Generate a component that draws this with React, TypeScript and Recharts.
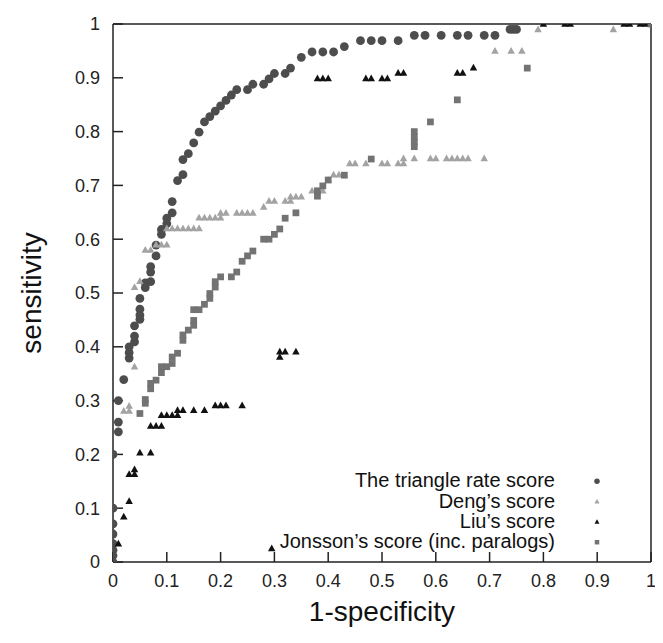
import React from 'react';
import { ScatterChart, Scatter, XAxis, YAxis, Label } from 'recharts';

// 1-specificity / sensitivity pairs
const triangleRateX = [
  0, 0, 0, 0, 0, 0, 0, 0, 0.01, 0.01, 0.01, 0.02, 0.03, 0.03, 0.03, 0.04, 0.04, 0.04,
  0.05, 0.05, 0.05, 0.05, 0.06, 0.06, 0.07, 0.07, 0.07, 0.08, 0.08, 0.09, 0.09, 0.1, 0.1,
  0.11, 0.11, 0.12, 0.13, 0.13, 0.14, 0.15, 0.16, 0.17, 0.18, 0.19, 0.2, 0.21, 0.22, 0.23,
  0.25, 0.26, 0.28, 0.29, 0.3, 0.32, 0.33, 0.35, 0.37, 0.39, 0.41, 0.43, 0.46, 0.48, 0.5,
  0.53, 0.56, 0.58, 0.61, 0.64, 0.66, 0.69, 0.71, 0.738, 0.744, 0.75,
];
const triangleRateY = [
  0, 0.012, 0.022, 0.034, 0.052, 0.071, 0.1, 0.2, 0.242, 0.26, 0.3, 0.339, 0.379, 0.389, 0.4,
  0.409, 0.42, 0.439, 0.451, 0.459, 0.47, 0.49, 0.51, 0.519, 0.521, 0.539, 0.549, 0.569, 0.589,
  0.609, 0.618, 0.629, 0.639, 0.649, 0.67, 0.709, 0.72, 0.748, 0.759, 0.779, 0.799, 0.818,
  0.828, 0.838, 0.848, 0.858, 0.868, 0.878, 0.878, 0.888, 0.888, 0.898, 0.908, 0.908, 0.918,
  0.938, 0.948, 0.948, 0.948, 0.958, 0.969, 0.969, 0.969, 0.969, 0.979, 0.979, 0.979, 0.979,
  0.979, 0.979, 0.979, 0.99, 0.99, 0.99,
];

const dengX = [
  0.02, 0.03, 0.03, 0.04, 0.04, 0.05, 0.06, 0.07, 0.08, 0.09, 0.1,
  0.1, 0.11, 0.12, 0.13, 0.14, 0.15, 0.16, 0.16, 0.17, 0.18, 0.19, 0.2,
  0.2, 0.21, 0.23, 0.24, 0.25, 0.26, 0.28, 0.29, 0.3, 0.32, 0.33, 0.33, 0.34, 0.35,
  0.37, 0.39, 0.4, 0.41, 0.42, 0.44, 0.45, 0.47, 0.5, 0.51, 0.53, 0.54,
  0.54, 0.56, 0.59, 0.6, 0.62, 0.63, 0.64, 0.65, 0.66, 0.69, 0.71, 0.74, 0.76, 0.79, 0.93,
];
const dengY = [
  0.281, 0.29, 0.281, 0.363, 0.511, 0.522, 0.58, 0.58, 0.59, 0.59, 0.59,
  0.62, 0.62, 0.62, 0.62, 0.62, 0.62, 0.62, 0.64, 0.64, 0.64, 0.64, 0.64,
  0.649, 0.649, 0.649, 0.649, 0.649, 0.649, 0.66, 0.671, 0.671, 0.671, 0.671, 0.679, 0.679, 0.679,
  0.69, 0.69, 0.71, 0.72, 0.72, 0.741, 0.741, 0.741, 0.741, 0.741, 0.741, 0.741,
  0.75, 0.75, 0.75, 0.75, 0.75, 0.75, 0.75, 0.75, 0.75, 0.75, 0.95, 0.95, 0.95, 0.99, 0.99,
];

const liuX = [
  0.01, 0.02, 0.03, 0.03, 0.04, 0.04, 0.05, 0.07, 0.07, 0.08, 0.09, 0.09, 0.1, 0.11, 0.12,
  0.12, 0.13, 0.15, 0.17, 0.19, 0.2, 0.21, 0.24, 0.295, 0.31, 0.31, 0.32, 0.34,
  0.38, 0.39, 0.4, 0.47, 0.48, 0.5, 0.51, 0.53, 0.54, 0.64, 0.65, 0.67,
  0.8, 0.84, 0.85, 0.95, 0.96, 0.98, 0.99, 1,
];
const liuY = [
  0.034, 0.084, 0.113, 0.163, 0.163, 0.172, 0.203, 0.203, 0.253, 0.253, 0.253, 0.273, 0.273,
  0.273, 0.273, 0.282, 0.282, 0.282, 0.282, 0.291, 0.291, 0.291, 0.291, 0.025, 0.381, 0.391,
  0.391, 0.391, 0.899, 0.899, 0.899, 0.899, 0.899, 0.899, 0.899, 0.909, 0.909, 0.909, 0.909,
  0.919, 1, 1, 1, 1, 1, 1, 1, 1,
];

const jonssonX = [
  0.05, 0.06, 0.06, 0.07, 0.07, 0.08, 0.09, 0.09, 0.1, 0.11, 0.11, 0.12, 0.13, 0.13, 0.14,
  0.15, 0.15, 0.15, 0.16, 0.17, 0.18, 0.18, 0.19, 0.19, 0.2, 0.22, 0.23, 0.24, 0.25, 0.26,
  0.28, 0.29, 0.3, 0.31, 0.32, 0.34, 0.38, 0.38, 0.39, 0.4, 0.43, 0.48, 0.56, 0.56, 0.56,
  0.56, 0.59, 0.64, 0.77, 1,
];
const jonssonY = [
  0.276, 0.295, 0.302, 0.322, 0.332, 0.338, 0.352, 0.363, 0.363, 0.369, 0.381, 0.388, 0.412,
  0.422, 0.431, 0.44, 0.449, 0.469, 0.469, 0.479, 0.49, 0.499, 0.511, 0.521, 0.53, 0.53,
  0.539, 0.559, 0.569, 0.578, 0.6, 0.6, 0.609, 0.619, 0.639, 0.649, 0.68, 0.69, 0.699, 0.71,
  0.719, 0.749, 0.772, 0.781, 0.79, 0.8, 0.818, 0.859, 0.918, 1,
];

const axisTicks = [0, 0.1, 0.2, 0.3, 0.4, 0.5, 0.6, 0.7, 0.8, 0.9, 1];
const seriesNames = [
  'The triangle rate score',
  'Deng\u2019s score',
  'Liu\u2019s score',
  'Jonsson\u2019s score (inc. paralogs)',
];

const zip = (xs: number[], ys: number[]) => xs.map((x, i) => ({ x, y: ys[i] }));

const FONT = '"Liberation Sans", Arial, Helvetica, sans-serif';
const INK = '#222';
const COLORS = ['#4d4d4d', '#a3a3a3', '#111111', '#737373'];
const SIZES = [8, 7.5, 7.5, 7.5];

const marker = (kind: number, cx: number, cy: number, s: number, fill: string) => {
  if (kind === 0) return <circle cx={cx} cy={cy} r={s * 0.55} fill={fill} />;
  if (kind === 3) {
    const h = s * 0.45;
    return <rect x={cx - h} y={cy - h} width={h * 2} height={h * 2} fill={fill} />;
  }
  const w = s * 0.5;
  return (
    <polygon
      points={`${cx},${cy - w * 1.05} ${cx - w},${cy + w * 0.75} ${cx + w},${cy + w * 0.75}`}
      fill={fill}
    />
  );
};

const shapeFor = (kind: number) => (p: any) => marker(kind, p.cx, p.cy, SIZES[kind], COLORS[kind]);

const tickStyle = { fontSize: 18, fill: INK, fontFamily: FONT };
const fmt = (v: number) => `${v}`;

export default function App() {
  const series = [
    zip(triangleRateX, triangleRateY),
    zip(dengX, dengY),
    zip(liuX, liuY),
    zip(jonssonX, jonssonY),
  ];

  return (
    <div style={{ position: 'relative', width: 655, height: 635 }}>
      <ScatterChart width={655} height={635} margin={{ top: 15, right: 11, bottom: 0, left: 0 }}>
        <XAxis
          xAxisId="b"
          type="number"
          dataKey="x"
          domain={[0, 1]}
          ticks={axisTicks}
          interval={0}
          allowDataOverflow
          height={81}
          tickSize={-10}
          tickMargin={22}
          tick={tickStyle}
          tickFormatter={fmt}
          stroke={INK}
          strokeWidth={1.5}
        >
          <Label
            content={(p: any) => (
              <text
                x={p.viewBox.x + p.viewBox.width / 2}
                y={p.viewBox.y + 59}
                textAnchor="middle"
                fontSize={28}
                fontFamily={FONT}
                fill="#111"
              >
                1-specificity
              </text>
            )}
          />
        </XAxis>
        <XAxis
          xAxisId="t"
          orientation="top"
          type="number"
          domain={[0, 1]}
          ticks={axisTicks}
          interval={0}
          height={1}
          tickSize={-10}
          tick={false}
          stroke={INK}
          strokeWidth={1.5}
        />
        <YAxis
          yAxisId="l"
          type="number"
          dataKey="y"
          domain={[0, 1]}
          ticks={axisTicks}
          interval={0}
          allowDataOverflow
          width={105}
          tickSize={-10}
          tickMargin={23}
          tick={tickStyle}
          tickFormatter={fmt}
          stroke={INK}
          strokeWidth={1.5}
        >
          <Label
            content={(p: any) => {
              const cx = p.viewBox.x + 33;
              const cy = p.viewBox.y + p.viewBox.height / 2;
              return (
                <text
                  x={cx}
                  y={cy}
                  transform={`rotate(-90 ${cx} ${cy})`}
                  textAnchor="middle"
                  fontSize={28}
                  fontFamily={FONT}
                  fill="#111"
                >
                  sensitivity
                </text>
              );
            }}
          />
        </YAxis>
        <YAxis
          yAxisId="r"
          orientation="right"
          type="number"
          domain={[0, 1]}
          ticks={axisTicks}
          interval={0}
          width={1}
          tickSize={-10}
          tick={false}
          stroke={INK}
          strokeWidth={1.5}
        />
        {series.map((data, i) => (
          <Scatter
            key={seriesNames[i]}
            name={seriesNames[i]}
            data={data}
            xAxisId="b"
            yAxisId="l"
            fill={COLORS[i]}
            shape={shapeFor(i)}
            isAnimationActive={false}
          />
        ))}
      </ScatterChart>
      <svg
        width={655}
        height={635}
        style={{ position: 'absolute', left: 0, top: 0, pointerEvents: 'none' }}
      >
        {seriesNames.map((name, i) => {
          const base = 479.3 + i * 20.3;
          return (
            <g key={name}>
              <text x={547} y={base} textAnchor="end" fontSize={20} fontFamily={FONT} fill="#111">
                {name}
              </text>
              {marker(i, 589, base - 6, 5, COLORS[i])}
            </g>
          );
        })}
      </svg>
    </div>
  );
}
